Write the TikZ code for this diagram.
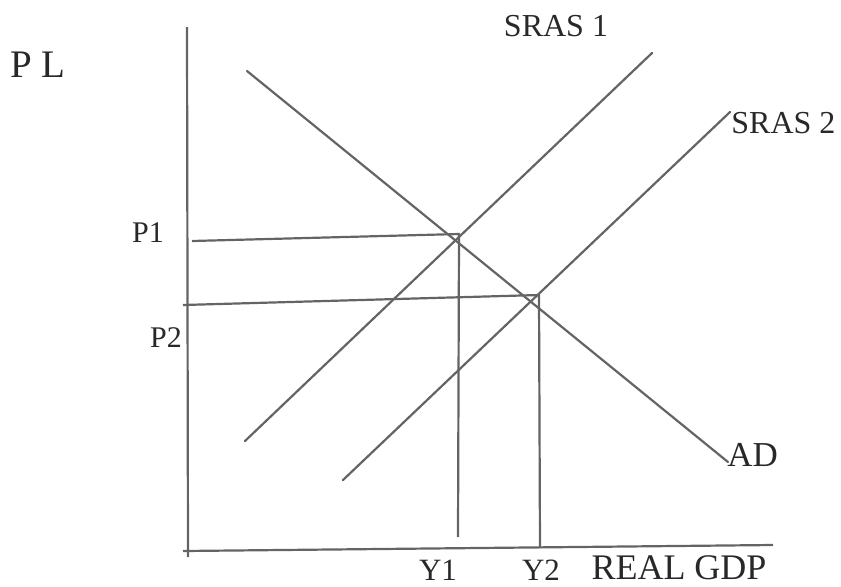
\documentclass[tikz,border=0pt]{standalone}
\usepackage{fontspec}
\setmainfont{Liberation Serif}
\usetikzlibrary{positioning}
\definecolor{inkgray}{RGB}{100, 100, 100}
\definecolor{txtgray}{RGB}{40, 40, 40}
\tikzset{
  axisline/.style = {draw=inkgray, line width=1.1pt},
  curve/.style    = {draw=inkgray, line width=1.1pt, line cap=round},
  guide/.style    = {draw=inkgray, line width=1.1pt},
  lbl/.style      = {inner sep=0pt, text=txtgray,
                     font=\fontsize{#1}{#1}\selectfont},
  lbl/.default    = 16,
}

\begin{document}
\begin{tikzpicture}[x=0.5pt, y=-0.5pt]
  \useasboundingbox (0,0) rectangle (841,586);

  % axes
  \coordinate (axtop)   at (187,27);
  \coordinate (axbot)   at (188,557);
  \coordinate (axleft)  at (183,551);
  \coordinate (axright) at (773,545);
  \draw[axisline] (axtop) -- (axbot);
  \draw[axisline] (axleft) -- (axright);

  % curves
  \coordinate (adtop)  at (247,71);
  \coordinate (adend)  at (728,462);
  \coordinate (s1low)  at (245,441);
  \coordinate (s1top)  at (652,53);
  \coordinate (s2low)  at (343,480);
  \coordinate (s2top)  at (730,112);
  \draw[curve] (adtop) -- (adend);
  \draw[curve] (s1low) -- (s1top);
  \draw[curve] (s2low) -- (s2top);

  % equilibria and guide lines
  \coordinate (eq1)   at (459,234);
  \coordinate (eq2)   at (539,295);
  \coordinate (p1end) at (192,241);
  \coordinate (p2end) at (183,305);
  \coordinate (y1end) at (458,537);
  \coordinate (y2end) at (540,548);
  \draw[guide] (p1end) -- (eq1) -- (y1end);
  \draw[guide] (p2end) -- (eq2) -- (y2end);

  % labels
  \node[lbl=19.5] (pl)    at (38,65)   {P L};
  \node[lbl=15]   (p1)    at (148,233) {P1};
  \node[lbl=15]   (p2)    at (166,338) {P2};
  \node[lbl=15.5] (y1)    at (438,570) {Y1};
  \node[lbl=15.5] (y2)    at (541,570) {Y2};
  \node[lbl=18]   (gdp)   at (679,568) {REAL GDP};
  \node[lbl=16]   (sras1) at (556,26)  {SRAS 1};
  \node[lbl=16, anchor=west] (sras2) at (731,123) {SRAS 2};
  \node[lbl=17.5, anchor=west] (ad)  at (727,455) {AD};
\end{tikzpicture}
\end{document}
